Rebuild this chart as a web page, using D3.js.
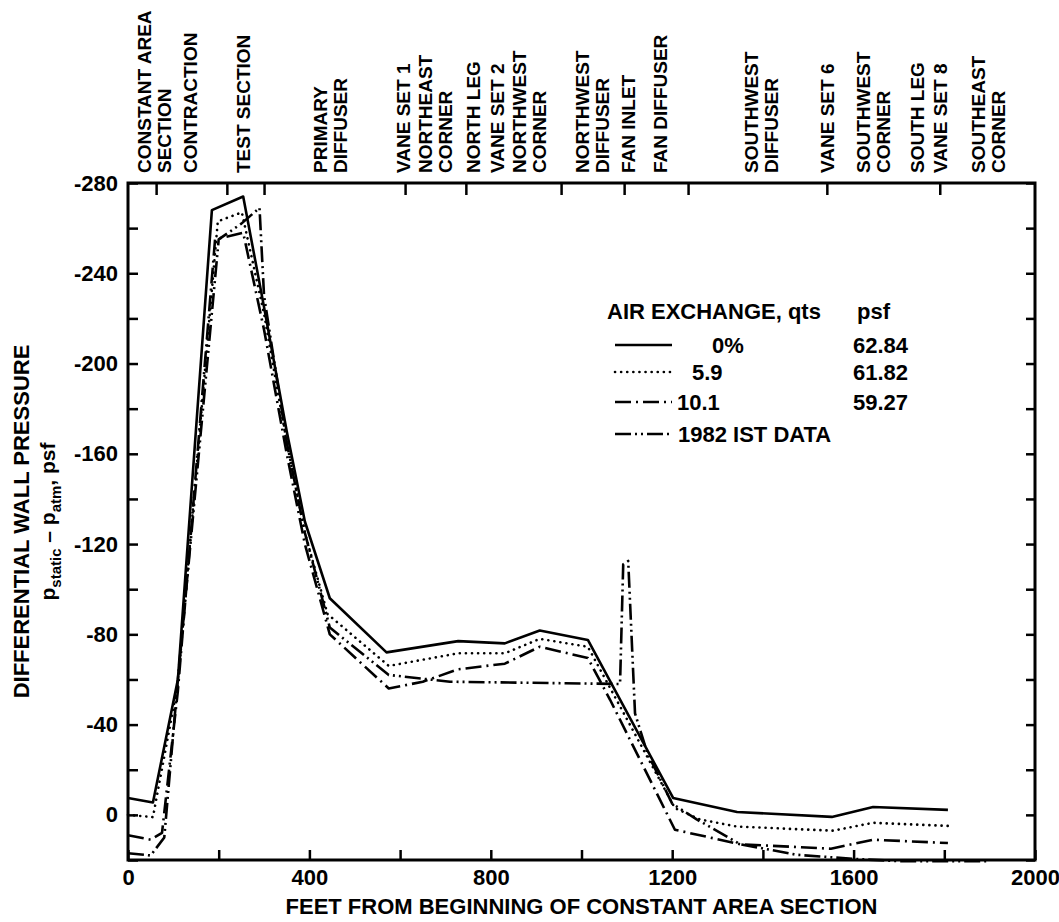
<!DOCTYPE html>
<html>
<head>
<meta charset="utf-8">
<script src="https://cdn.jsdelivr.net/npm/d3@7"></script>
<style>
  body { margin: 0; background: #fff; }
  text { font-family: "Liberation Sans", Arial, sans-serif; font-weight: bold; fill: #000; }
  .frame { fill: none; stroke: #000; stroke-width: 3; }
  .tick line { stroke: #000; stroke-width: 2.5; }
  .curve { fill: none; stroke: #000; stroke-width: 2.6; stroke-linejoin: round; }
</style>
</head>
<body>
<script>
(function(){
  // *************************************************** //
  // data (feet from start of constant area section, psf)
  var feetZero = [0, 55, 110, 185, 254, 300, 350, 390, 445, 570, 728, 831, 908, 1014, 1202, 1343, 1552, 1643, 1808];
  var psfZero  = [-7.5, -5.5, -60, -268, -274, -225, -170, -130, -96, -72, -77, -76, -81.7, -77.5, -7.5, -1.3, 0.9, -3.5, -2.2];

  var feetFive = [0, 55, 110, 198, 251, 300, 350, 390, 440, 575, 728, 831, 908, 1014, 1206, 1261, 1343, 1555, 1643, 1808];
  var psfFive  = [0, 1, -58, -263, -267, -222, -165, -125, -89, -66, -71.6, -71.6, -78, -74.5, -3, 2, 5.2, 7, 3.5, 4.9];

  var feetTen = [0, 50, 75, 110, 192, 254, 300, 350, 390, 445, 575, 650, 728, 831, 908, 1014, 1063, 1206, 1350, 1550, 1643, 1808];
  var psfTen  = [9, 11, 8, -55, -255, -258, -215, -160, -120, -80, -56, -59, -64.5, -67, -74.5, -69.5, -51, 6.6, 13, 15, 11, 12.5];

  var feetIST = [0, 50, 80, 110, 200, 250, 290, 300, 350, 390, 445, 575, 710, 1085, 1092, 1103, 1118, 1145, 1200, 1254, 1350, 1475, 1600, 1700, 1900];
  var psfIST  = [17, 18, 10, -60, -255, -262, -269, -230, -165, -125, -83, -62, -59, -58, -111, -112.5, -45, -27.5, -5, 2, 13, 17.7, 19.5, 20.5, 20.5];

  // legend entries
  var legendNames  = ["0%", "5.9", "10.1", "1982 IST DATA"];
  var legendPsf    = ["62.84", "61.82", "59.27", ""];

  // tunnel sections along the top (feet)
  var sectionNames = [["CONSTANT AREA", "SECTION"], ["CONTRACTION"], ["TEST SECTION"], ["PRIMARY", "DIFFUSER"],
                      ["VANE SET 1"], ["NORTHEAST", "CORNER"], ["NORTH LEG"], ["VANE SET 2"], ["NORTHWEST", "CORNER"],
                      ["NORTHWEST", "DIFFUSER"], ["FAN INLET"], ["FAN DIFFUSER"], ["SOUTHWEST", "DIFFUSER"],
                      ["VANE SET 6"], ["SOUTHWEST", "CORNER"], ["SOUTH LEG"], ["VANE SET 8"], ["SOUTHEAST", "CORNER"]];
  var sectionFeet  = [57, 137, 254, 445, 606, 677, 761, 814, 884, 1024, 1103, 1173, 1396, 1541, 1642, 1740, 1791, 1896];
  var boundaryFeet = [62, 218, 300, 611, 745, 955, 1094, 1235, 1541, 1790];

  // axis ticks
  var xTicks = d3.range(0, 2001, 200);
  var yTicks = d3.range(-280, 21, 20);

  // line patterns for the four series
  var dashes = [null, "0.1,6", "16,5,2,5", "16,4,2,4,2,4"];

  // *************************************************** //
  var width = 1059, height = 922;
  var left = 128, right = 1035, top = 183, bottom = 860;

  var svg = d3.select("body")
    .append("svg")
    .attr("width", width)
    .attr("height", height);

  var x = d3.scaleLinear().domain([0, 2000]).range([left, right]);
  var y = d3.scaleLinear().domain([-280, 20]).range([top, bottom]);

  // bottom axis, ticks point inward
  svg.append("g")
    .attr("transform", "translate(0," + bottom + ")")
    .call(d3.axisBottom(x)
      .tickValues(xTicks)
      .tickSizeInner(-10)
      .tickSizeOuter(0)
      .tickPadding(9)
      .tickFormat(function(d){ return d % 400 === 0 ? String(d) : ""; }))
    .call(function(g){ g.select(".domain").remove(); })
    .selectAll("text")
    .style("font-size", "22px");

  // left axis
  svg.append("g")
    .attr("transform", "translate(" + left + ",0)")
    .call(d3.axisLeft(y)
      .tickValues(yTicks)
      .tickSizeInner(-10)
      .tickSizeOuter(0)
      .tickPadding(10)
      .tickFormat(function(d){ return d % 40 === 0 ? String(d) : ""; }))
    .call(function(g){ g.select(".domain").remove(); })
    .selectAll("text")
    .style("font-size", "22px");

  // right axis, no labels
  svg.append("g")
    .attr("transform", "translate(" + right + ",0)")
    .call(d3.axisRight(y).tickValues(yTicks).tickSizeInner(-9).tickSizeOuter(0).tickFormat(""))
    .call(function(g){ g.select(".domain").remove(); });

  // top axis: section boundaries
  svg.append("g")
    .attr("transform", "translate(0," + top + ")")
    .call(d3.axisTop(x).tickValues(boundaryFeet).tickSizeInner(-12).tickSizeOuter(0).tickFormat(""))
    .call(function(g){ g.select(".domain").remove(); });

  // frame
  svg.append("rect")
    .attr("class", "frame")
    .attr("x", left)
    .attr("y", top)
    .attr("width", right - left)
    .attr("height", bottom - top);

  // section labels, rotated, reading upward
  sectionNames.forEach(function(lines, i){
    var cx = x(sectionFeet[i]);
    lines.forEach(function(label, j){
      var lx = cx + (j - (lines.length - 1) / 2) * 20 + 7;
      svg.append("text")
        .attr("transform", "translate(" + lx + ",173) rotate(-90)")
        .style("font-size", "19px")
        .text(label);
    });
  });

  // curves
  var line = d3.line()
    .x(function(d){ return x(d[0]); })
    .y(function(d){ return y(d[1]); });

  var series = [d3.zip(feetZero, psfZero), d3.zip(feetFive, psfFive), d3.zip(feetTen, psfTen), d3.zip(feetIST, psfIST)];

  svg.selectAll(".curve")
    .data(series)
    .enter()
    .append("path")
    .attr("class", "curve")
    .attr("d", line)
    .attr("stroke-dasharray", function(d, i){ return dashes[i]; })
    .attr("stroke-linecap", function(d, i){ return i === 1 ? "round" : "butt"; })
    .attr("stroke-width", function(d, i){ return i === 1 ? 3 : 2.6; });

  // legend
  var legend = svg.append("g").style("font-size", "22px");
  legend.append("text").attr("x", 607).attr("y", 319).text("AIR EXCHANGE, qts");
  legend.append("text").attr("x", 857).attr("y", 319).text("psf");

  var rowY = [345, 372, 402, 434];
  var labelX = [712, 692, 677, 678];
  legendNames.forEach(function(name, i){
    legend.append("line")
      .attr("class", "curve")
      .attr("x1", 615).attr("x2", 672)
      .attr("y1", rowY[i]).attr("y2", rowY[i])
      .attr("stroke-dasharray", dashes[i])
      .attr("stroke-linecap", i === 1 ? "round" : "butt")
      .attr("stroke-width", i === 1 ? 3 : 2.6);
    legend.append("text").attr("x", labelX[i]).attr("y", rowY[i] + 8).text(name);
    legend.append("text").attr("x", 853).attr("y", rowY[i] + 8).text(legendPsf[i]);
  });

  // y title
  var midY = (top + bottom) / 2;
  svg.append("text")
    .attr("transform", "translate(29," + midY + ") rotate(-90)")
    .attr("text-anchor", "middle")
    .style("font-size", "22px")
    .text("DIFFERENTIAL WALL PRESSURE");

  var sub = svg.append("text")
    .attr("transform", "translate(55," + midY + ") rotate(-90)")
    .attr("text-anchor", "middle")
    .style("font-size", "21px");
  sub.append("tspan").text("p");
  sub.append("tspan").attr("dy", 6).style("font-size", "15px").text("static");
  sub.append("tspan").attr("dy", -6).text(" \u2013 p");
  sub.append("tspan").attr("dy", 6).style("font-size", "15px").text("atm");
  sub.append("tspan").attr("dy", -6).text(", psf");

  // x title
  svg.append("text")
    .attr("x", (left + right) / 2)
    .attr("y", 914)
    .attr("text-anchor", "middle")
    .style("font-size", "22px")
    .text("FEET FROM BEGINNING OF CONSTANT AREA SECTION");
})();
</script>
</body>
</html>
